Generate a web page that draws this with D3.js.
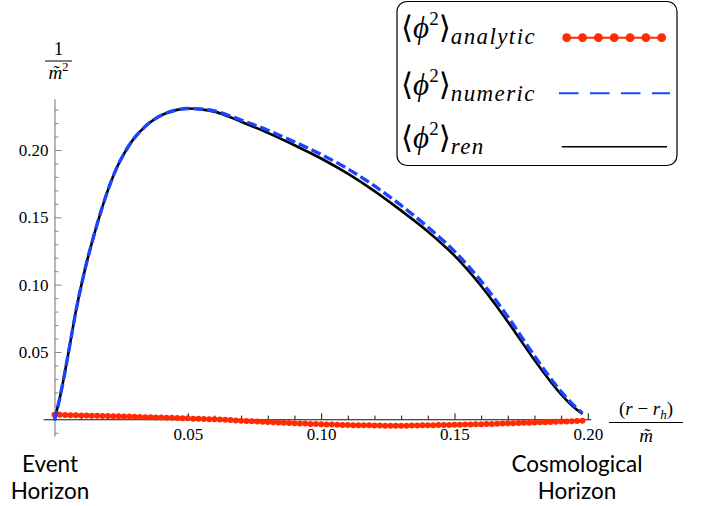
<!DOCTYPE html>
<html>
<head>
<meta charset="utf-8">
<script src="https://cdn.jsdelivr.net/npm/d3@7"></script>
<style>
  body { margin: 0; background: #fff; }
  svg { display: block; }
  .tick text { font-family: "Liberation Serif", "Times New Roman", "DejaVu Serif", "Noto Serif", serif !important; font-size: 17px; fill: #000; }
  .serif, .serif text { font-family: "Liberation Serif", "Times New Roman", "DejaVu Serif", "Noto Serif", serif; }
  .sans { font-family: Lato, "Open Sans", sans-serif; font-size: 22.5px; fill: #000; }
</style>
</head>
<body>
<div id="chart"></div>
<script>
var serifFont = "'Liberation Serif', 'Times New Roman', 'DejaVu Serif', serif";

// grid of r values (in units of m~) for the two numerical curves
var rVals = [0, 0.002, 0.004, 0.006, 0.008, 0.010, 0.012, 0.014, 0.016, 0.018,
    0.020, 0.022, 0.024, 0.026, 0.028, 0.030, 0.034, 0.038, 0.042, 0.046,
    0.050, 0.055, 0.060, 0.070, 0.080, 0.090, 0.100, 0.110, 0.120, 0.130,
    0.140, 0.150, 0.160, 0.170, 0.180, 0.190, 0.195, 0.198];

// <phi^2>_ren  (black solid)
var renVals = [0.000, 0.016, 0.036, 0.058, 0.080, 0.099, 0.116, 0.131, 0.145, 0.158,
    0.170, 0.1805, 0.1895, 0.197, 0.2035, 0.209, 0.2175, 0.2235, 0.2275, 0.2298,
    0.2308, 0.2302, 0.2285, 0.221, 0.2127, 0.2035, 0.1937, 0.1824, 0.1695, 0.155,
    0.1395, 0.1215, 0.099, 0.0725, 0.044, 0.0185, 0.0085, 0.004];

// <phi^2>_numeric  (blue dashed)
var numericVals = [-0.001, 0.016, 0.036, 0.058, 0.080, 0.099, 0.116, 0.131, 0.145, 0.158,
    0.170, 0.1805, 0.1895, 0.197, 0.2035, 0.209, 0.2175, 0.2235, 0.2275, 0.2298,
    0.2308, 0.2304, 0.2290, 0.2222, 0.2147, 0.206, 0.1967, 0.186, 0.1733, 0.1588,
    0.1428, 0.1247, 0.1026, 0.0762, 0.047, 0.0205, 0.0098, 0.0047];

// <phi^2>_analytic (red dots), sampled every 0.002 from r = 0
var analyticStep = 0.002;
var analyticVals = [
    0.0034, 0.0033, 0.0032, 0.0031, 0.0030, 0.0029, 0.0028, 0.0027, 0.0026, 0.0025,
    0.0024, 0.0023, 0.0022, 0.0021, 0.0020, 0.0019, 0.0017, 0.0016, 0.0015, 0.0014,
    0.0013, 0.0012, 0.0011, 0.0009, 0.0008, 0.0007, 0.0005, 0.0004, 0.0003, 0.0001,
    0.0000, -0.0002, -0.0004, -0.0006, -0.0008, -0.0010, -0.0012, -0.0014, -0.0016, -0.0018,
    -0.0020, -0.0022, -0.0024, -0.0025, -0.0027, -0.0029, -0.0031, -0.0032, -0.0034, -0.0035,
    -0.0037, -0.0038, -0.0039, -0.0040, -0.0042, -0.0043, -0.0044, -0.0044, -0.0045, -0.0045,
    -0.0046, -0.0046, -0.0047, -0.0047, -0.0047, -0.0047, -0.0047, -0.0046, -0.0046, -0.0045,
    -0.0045, -0.0044, -0.0043, -0.0043, -0.0042, -0.0041, -0.0040, -0.0039, -0.0038, -0.0037,
    -0.0036, -0.0035, -0.0034, -0.0033, -0.0031, -0.0030, -0.0029, -0.0028, -0.0026, -0.0025,
    -0.0024, -0.0022, -0.0021, -0.0020, -0.0018, -0.0017, -0.0016, -0.0014, -0.0013, -0.0011];

var xMajor = [0.05, 0.10, 0.15, 0.20];
var yMajor = [0.05, 0.10, 0.15, 0.20];
var legendLabels = ["analytic", "numeric", "ren"];

var width = 719, height = 506;
var red = "#ff2a00", blue = "#1a44ff";

var svg = d3.select("#chart").append("svg")
    .attr("width", width)
    .attr("height", height);

var x = d3.scaleLinear().domain([0, 0.2]).range([54.5, 587.8]);
var y = d3.scaleLinear().domain([0, 0.2]).range([419.3, 150]);

// ---- axes
var xAxisScale = x.copy().domain([-0.0043, 0.2011]).range([x(-0.0043), x(0.2011)]);
var yAxisScale = y.copy().domain([-0.0125, 0.238]).range([y(-0.0125), y(0.238)]);

var xMinor = d3.range(1, 21).map(function(i){ return i / 100; })
    .filter(function(v){ return Math.round(v * 100) % 5 !== 0; });
var yMinor = d3.range(-1, 24).map(function(i){ return i / 100; })
    .filter(function(v){ return Math.round(v * 100) % 5 !== 0; });

var xAxis = svg.append("g")
    .attr("transform", "translate(0," + y(0) + ")")
    .call(d3.axisBottom(xAxisScale)
        .tickValues(xMajor)
        .tickSizeInner(-6)
        .tickSizeOuter(0)
        .tickPadding(9)
        .tickFormat(d3.format(".2f")));
xAxis.attr("font-family", serifFont).attr("font-size", 17);
xAxis.select(".domain").attr("stroke", "#111").attr("stroke-width", 1.1);
xAxis.selectAll(".tick line").attr("stroke", "#111");

svg.append("g")
    .attr("transform", "translate(0," + y(0) + ")")
    .call(d3.axisBottom(xAxisScale).tickValues(xMinor).tickSizeInner(-3.7).tickSizeOuter(0).tickFormat(""))
    .call(function(g){ g.select(".domain").remove(); g.selectAll("line").attr("stroke", "#111"); });

var yAxis = svg.append("g")
    .attr("transform", "translate(" + x(0) + ",0)")
    .call(d3.axisLeft(yAxisScale)
        .tickValues(yMajor)
        .tickSizeInner(-7)
        .tickSizeOuter(0)
        .tickPadding(6)
        .tickFormat(d3.format(".2f")));
yAxis.attr("font-family", serifFont).attr("font-size", 17);
yAxis.select(".domain").attr("stroke", "#888").attr("stroke-width", 1.2);
yAxis.selectAll(".tick line").attr("stroke", "#888");

svg.append("g")
    .attr("transform", "translate(" + x(0) + ",0)")
    .call(d3.axisLeft(yAxisScale).tickValues(yMinor).tickSizeInner(-4).tickSizeOuter(0).tickFormat(""))
    .call(function(g){ g.select(".domain").remove(); g.selectAll("line").attr("stroke", "#888"); });

// ---- curves
var analyticData = analyticVals.map(function(v, i){ return {r: i * analyticStep, v: v}; });
var renData = rVals.map(function(r, i){ return {r: r, v: renVals[i]}; });
var numericData = rVals.map(function(r, i){ return {r: r, v: numericVals[i]}; });

var line = d3.line()
    .x(function(d){ return x(d.r); })
    .y(function(d){ return y(d.v); })
    .curve(d3.curveMonotoneX);

svg.append("path")
    .attr("d", line(analyticData))
    .attr("fill", "none")
    .attr("stroke", red)
    .attr("stroke-width", 2);

svg.selectAll(".adot")
    .data(analyticData)
    .enter().append("circle")
    .attr("class", "adot")
    .attr("cx", function(d){ return x(d.r); })
    .attr("cy", function(d){ return y(d.v); })
    .attr("r", 3)
    .attr("fill", red);

svg.append("path")
    .attr("d", line(renData))
    .attr("fill", "none")
    .attr("stroke", "#000")
    .attr("stroke-width", 2.6);

svg.append("path")
    .attr("d", line(numericData))
    .attr("fill", "none")
    .attr("stroke", blue)
    .attr("stroke-width", 3.4)
    .attr("stroke-dasharray", "10,4");

// ---- axis labels
var yLab = svg.append("g").attr("class", "serif").attr("font-family", serifFont);
yLab.append("text").attr("x", 58.5).attr("y", 55).attr("text-anchor", "middle")
    .attr("font-size", 19).text("1");
yLab.append("line").attr("x1", 45).attr("x2", 72).attr("y1", 61).attr("y2", 61)
    .attr("stroke", "#000").attr("stroke-width", 1);
var ym = yLab.append("text").attr("x", 58.5).attr("y", 79).attr("text-anchor", "middle")
    .attr("font-size", 19);
ym.append("tspan").attr("font-style", "italic").text("m\u0303");
ym.append("tspan").attr("font-size", 13).attr("dy", -8).text("2");

var xLab = svg.append("g").attr("class", "serif").attr("font-family", serifFont);
var xn = xLab.append("text").attr("x", 646).attr("y", 415).attr("text-anchor", "middle")
    .attr("font-size", 19);
xn.append("tspan").text("(");
xn.append("tspan").attr("font-style", "italic").text("r");
xn.append("tspan").text(" \u2212 ");
xn.append("tspan").attr("font-style", "italic").text("r");
xn.append("tspan").attr("font-style", "italic").attr("font-size", 13).attr("dy", 4).text("h");
xn.append("tspan").attr("dy", -4).text(")");
xLab.append("line").attr("x1", 609).attr("x2", 683).attr("y1", 422.5).attr("y2", 422.5)
    .attr("stroke", "#000").attr("stroke-width", 1);
xLab.append("text").attr("x", 646).attr("y", 442).attr("text-anchor", "middle")
    .attr("font-size", 19).attr("font-style", "italic").text("m\u0303");

// ---- horizon labels
svg.append("text").attr("class", "sans").attr("x", 50).attr("y", 472)
    .attr("text-anchor", "middle").text("Event");
svg.append("text").attr("class", "sans").attr("x", 50).attr("y", 499)
    .attr("text-anchor", "middle").text("Horizon");
svg.append("text").attr("class", "sans").attr("x", 577).attr("y", 472)
    .attr("text-anchor", "middle").text("Cosmological");
svg.append("text").attr("class", "sans").attr("x", 577).attr("y", 499)
    .attr("text-anchor", "middle").text("Horizon");

// ---- legend
var legend = svg.append("g");
legend.append("rect")
    .attr("x", 397).attr("y", 1.5).attr("width", 280).attr("height", 164)
    .attr("rx", 10).attr("ry", 10)
    .attr("fill", "#fff").attr("stroke", "#000").attr("stroke-width", 1.2);

var rowY = [38, 95, 148];
legendLabels.forEach(function(lab, i){
    var t = legend.append("text").attr("class", "serif").attr("font-family", serifFont)
        .attr("x", 401).attr("y", rowY[i]).attr("font-size", 31);
    t.append("tspan").text("\u27E8");
    t.append("tspan").attr("font-style", "italic").text("\u03D5");
    t.append("tspan").attr("font-size", 19).attr("dy", -13).text("2");
    t.append("tspan").attr("dy", 13).text("\u27E9");
    t.append("tspan").attr("font-style", "italic").attr("font-size", 23)
        .attr("letter-spacing", 1.4).attr("dy", 6).text(lab);
});

// sample marks
var lx = d3.scaleLinear().domain([0, 6]).range([566.7, 661.7]);
legend.append("line").attr("x1", lx(0)).attr("x2", lx(6)).attr("y1", 37.7).attr("y2", 37.7)
    .attr("stroke", red).attr("stroke-width", 2);
legend.selectAll(".ldot").data(d3.range(7)).enter().append("circle")
    .attr("class", "ldot")
    .attr("cx", function(d){ return lx(d); }).attr("cy", 37.7).attr("r", 4.4)
    .attr("fill", red);
legend.append("line").attr("x1", 559).attr("x2", 670).attr("y1", 93.3).attr("y2", 93.3)
    .attr("stroke", blue).attr("stroke-width", 2).attr("stroke-dasharray", "19.5,11.5");
legend.append("line").attr("x1", 561.7).attr("x2", 667).attr("y1", 146.7).attr("y2", 146.7)
    .attr("stroke", "#000").attr("stroke-width", 1.6);
</script>
</body>
</html>
